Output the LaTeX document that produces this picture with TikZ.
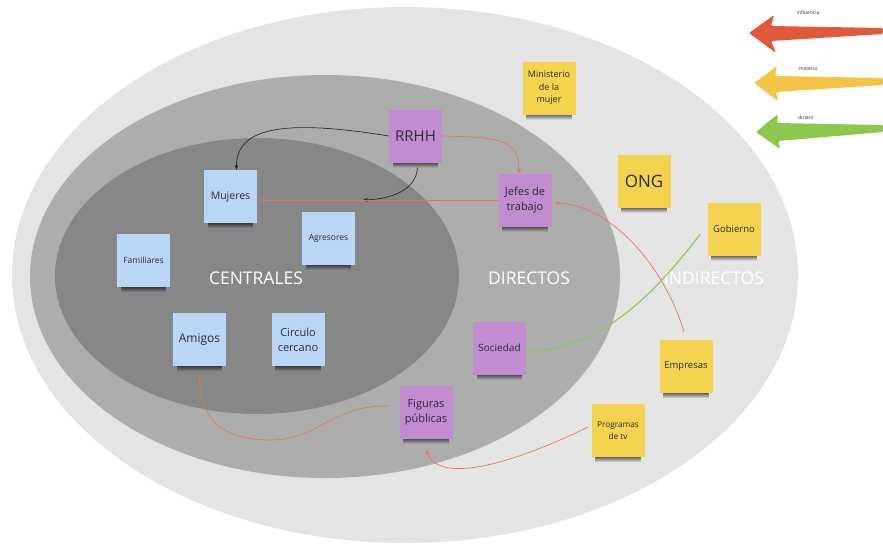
\documentclass[tikz,border=0pt]{standalone}
\usepackage{fontspec}
\setmainfont{Open Sans}
\usetikzlibrary{arrows.meta,fadings}
\definecolor{outerc}{HTML}{E4E4E4}
\definecolor{midc}{HTML}{ADADAD}
\definecolor{innerc}{HTML}{878787}
\definecolor{noteblue}{HTML}{BAD6F7}
\definecolor{notepurple}{HTML}{C18DD0}
\definecolor{noteyellow}{HTML}{F4D44F}
\definecolor{linered}{HTML}{E8735A}
\definecolor{arrred}{HTML}{E2583A}
\definecolor{arryellow}{HTML}{F2C546}
\definecolor{arrgreen}{HTML}{8CC84B}
\definecolor{txt}{HTML}{2B2B36}
\tikzset{
  fs/.style n args={2}{font=\fontsize{#1}{#2}\selectfont},
  note/.style={rectangle, minimum width=53pt, minimum height=53pt, inner sep=1pt,
    align=center, text=txt},
  bluenote/.style={note, fill=noteblue},
  purplenote/.style={note, fill=notepurple},
  yellownote/.style={note, fill=noteyellow},
  noteshadow/.style={fill=black, opacity=0.55, path fading=south},
  region/.style={text=white, fs={17.5}{20}},
  redlink/.style={draw=linered, line width=0.65pt, -{Stealth[length=5pt,width=4pt]}},
  blacklink/.style={draw=black!85, line width=0.65pt, -{Stealth[length=5pt,width=4pt]}},
  greenlink/.style={draw=arrgreen, line width=1.1pt, -{Stealth[length=6pt,width=5pt]}},
  legendlabel/.style={text=black!80, fs={5}{6}},
  legendarrow/.style={rounded corners=1.5pt}
}
\begin{document}
\begin{tikzpicture}[x=1pt,y=-1pt]
\useasboundingbox (0,0) rectangle (883,544);
\fill[white] (0,0) rectangle (883,544);
% ellipses
\fill[outerc] (405,275) ellipse [x radius=393, y radius=268];
\fill[midc] (325,276.5) ellipse [x radius=295, y radius=201.5];
\fill[innerc] (257,276) ellipse [x radius=202, y radius=138];
% region labels
\node[region] (centrales) at (256,278) {CENTRALES};
\node[region] (directos) at (529,278) {DIRECTOS};
\node[region] (indirectos) at (714,278) {INDIRECTOS};
% legend arrows
\fill[arrred, legendarrow] (749,33) -- (774,15) -- (771,26) -- (883,28) -- (883,34) -- (771,41) -- (776,53) -- cycle;
\fill[arryellow, legendarrow] (754,83) -- (777,66) -- (775,76) -- (883,78) -- (883,85) -- (776,92) -- (778,101) -- cycle;
\fill[arrgreen, legendarrow] (756,132) -- (778,114) -- (777,123) -- (883,125) -- (883,132) -- (778,141) -- (780,149) -- cycle;
\node[legendlabel] (linf) at (808,13) {influencia};
\node[legendlabel] (lmat) at (808,69) {materia};
\node[legendlabel] (ldin) at (806,118) {dinero};
% notes
\node[purplenote, fs={15}{18}] (rrhh) at (415.5,136) {RRHH};
\node[purplenote, fs={11}{15}] (jefes) at (525,200) {Jefes de\\trabajo};
\node[bluenote, fs={10.5}{13}] (mujeres) at (230.5,196.5) {Mujeres};
\node[bluenote, fs={8.5}{11}] (agresores) at (328.5,238) {Agresores};
\node[bluenote, fs={8.5}{11}] (familiares) at (143.5,260.5) {Familiares};
\node[bluenote, fs={12}{15}] (amigos) at (199.5,339.5) {Amigos};
\node[bluenote, fs={11}{15}] (circulo) at (298,339.5) {Circulo\\cercano};
\node[purplenote, fs={11}{15}] (figuras) at (426,412) {Figuras\\públicas};
\node[purplenote, fs={10}{13}] (sociedad) at (499.5,348) {Sociedad};
\node[yellownote, fs={9}{12.5}] (ministerio) at (549,88) {Ministerio\\de la\\mujer};
\node[yellownote, fs={17}{20}] (ong) at (644,181) {ONG};
\node[yellownote, fs={9.5}{12}] (gobierno) at (734,229) {Gobierno};
\node[yellownote, fs={9.5}{12}] (empresas) at (686,366.5) {Empresas};
\node[yellownote, fs={8.3}{12}] (programas) at (618,430.5) {Programas\\de tv};
% shadows under the notes
\foreach \n in {rrhh,jefes,mujeres,agresores,familiares,amigos,circulo,figuras,sociedad,ministerio,ong,gobierno,empresas,programas}
  \fill[noteshadow] ([xshift=4pt]\n.south west) rectangle ([xshift=-4pt,yshift=-5pt]\n.south east);
% connectors
\coordinate (bend) at (363,200);
\draw[blacklink] (rrhh.west) .. controls (290,120) and (236,125) .. ([xshift=6pt]mujeres.north);
\draw[blacklink] ([xshift=2pt,yshift=-5pt]rrhh.south) .. controls (416,190) and (392,199) .. (bend);
\draw[redlink] (rrhh.east) .. controls (500,137) and (519,140) .. ([xshift=-6pt]jefes.north);
\draw[redlink] (jefes.west) -- ([xshift=3pt]jefes.west -| mujeres.east);
\draw[redlink] ([xshift=-2pt,yshift=8pt]empresas.north) .. controls (665,268) and (612,205) .. ([xshift=3pt,yshift=-3pt]jefes.east);
\draw[greenlink] ([xshift=-7pt,yshift=-5pt]gobierno.west) .. controls (650,300) and (600,346) .. ([xshift=3pt,yshift=-4pt]sociedad.east);
\draw[redlink] ([xshift=-10pt,yshift=6pt]figuras.west) .. controls (330,405) and (320,440) .. (270,440) .. controls (215,440) and (200,412) .. ([yshift=-10pt]amigos.south);
\draw[redlink] ([xshift=-3pt,yshift=3.5pt]programas.west) .. controls (520,460) and (440,487) .. ([yshift=-11pt]figuras.south);
\end{tikzpicture}
\end{document}
